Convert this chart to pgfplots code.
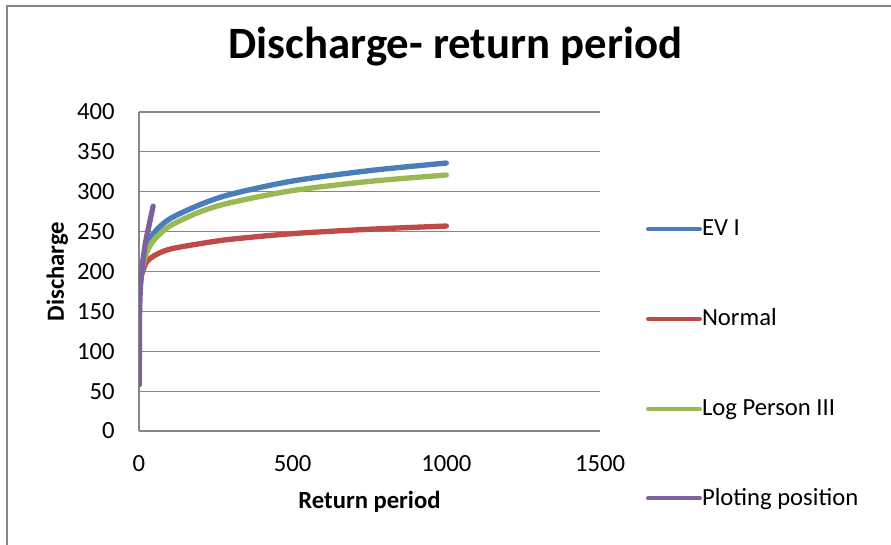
\documentclass[border=0pt]{standalone}
\usepackage{fontspec}
\setmainfont{Carlito}
\usepackage{pgfplots}
\pgfplotsset{compat=1.18}
\definecolor{evblue}{HTML}{4A7EBB}
\definecolor{nred}{HTML}{BE4B48}
\definecolor{lpgreen}{HTML}{98B954}
\definecolor{pppurple}{HTML}{7D60A0}
\definecolor{gridgray}{HTML}{868686}
\begin{document}
\begin{tikzpicture}
\path[use as bounding box] (-104.25pt,-84.75pt) rectangle (564pt,323.25pt);
\draw[gridgray, line width=1.1pt] (-99pt,-90pt) -- (-99pt,318.75pt) -- (570pt,318.75pt);
\begin{axis}[
  at={(0pt,0pt)}, anchor=south west,
  scale only axis, width=345.75pt, height=239.25pt,
  xmin=0, xmax=1500, ymin=0, ymax=400,
  xtick={0,500,1000,1500}, ytick={0,50,...,400},
  axis lines*=left, axis line style={-, gridgray, line width=1pt},
  ymajorgrids, major grid style={gridgray, line width=0.9pt},
  major tick length=0pt,
  /pgf/number format/assume math mode=true,
  /pgf/number format/set thousands separator={},
  tick label style={font=\fontsize{18.5}{20}\selectfont},
  yticklabel style={inner sep=0pt, anchor=east, xshift=-18pt},
  xticklabel style={inner sep=0pt, anchor=north, yshift=-18pt},
  xlabel={\bfseries Return period},
  ylabel={\bfseries Discharge},
  label style={font=\fontsize{18.5}{20}\selectfont, inner sep=0pt},
  xlabel style={at={(axis description cs:0.5,-0.188)}, anchor=north},
  ylabel style={at={(axis description cs:-0.1533,0.5)}, anchor=south, rotate=0},
  title={\bfseries Discharge- return period},
  title style={at={(axis description cs:0.6866,1.1411)}, anchor=base, inner sep=0pt, font=\fontsize{33.6}{38}\selectfont},
  legend style={at={(axis description cs:1.0998,0.670)}, anchor=north west, draw=none, fill=none,
    inner sep=0pt, outer sep=0pt, row sep=49.3pt, font=\fontsize{18.5}{20}\selectfont,
    nodes={inner sep=0pt, text height=14pt, text depth=4pt}},
  legend cell align=left,
  legend image code/.code={\draw[#1, line width=3pt, line cap=round] (0pt,0pt) -- (39pt,0pt);},
  every axis plot/.append style={line width=4pt, line cap=round, line join=round, smooth, tension=0.5},
]
\addplot[evblue] coordinates {(2,172) (5,190) (10,208) (25,232) (50,249) (100,266) (200,284) (300,297) (500,313.5) (750,326.5) (1000,336)};
\addlegendentry{EV I}
\addplot[nred] coordinates {(2,172) (5,188) (10,198) (25,212) (50,220) (100,228) (200,235) (300,240.5) (500,247.5) (750,253) (1000,257)};
\addlegendentry{Normal}
\addplot[lpgreen] coordinates {(2,172) (5,188) (10,203) (25,224) (50,240) (100,257) (200,275) (300,286.5) (500,301.5) (750,313) (1000,321)};
\addlegendentry{Log Person III}
\addplot[pppurple] coordinates {(1.02,58) (1.05,75) (1.1,95) (1.2,115) (1.5,135) (2,150) (3,165) (4,175) (6,188) (9,200) (15,220) (23,240) (46,282)};
\addlegendentry{Ploting position}
\end{axis}
\end{tikzpicture}
\end{document}
